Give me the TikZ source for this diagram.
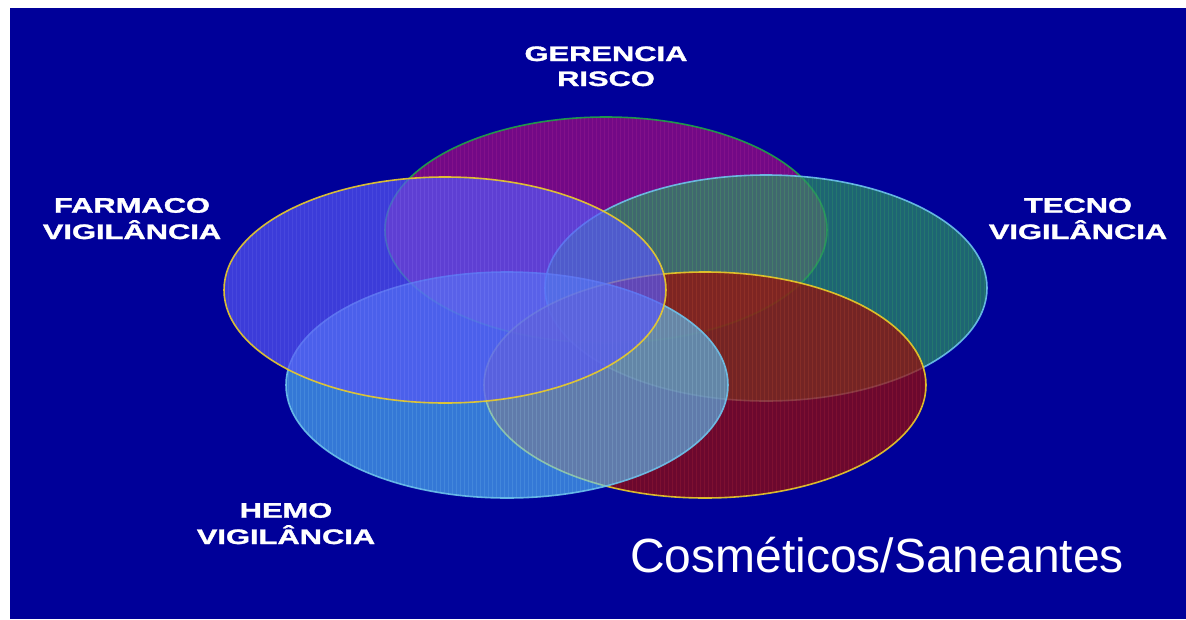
\documentclass[tikz,border=0pt]{standalone}
\usepackage{fontspec}
\setmainfont{Liberation Sans}
\newfontfamily\labfont[FakeBold=1.2]{Liberation Sans Bold}
\usepackage{graphicx}
\usetikzlibrary{calc}
\definecolor{bgblue}{RGB}{0,0,153}
\definecolor{gerfill}{RGB}{164,14,127}
\definecolor{tecfill}{RGB}{43,145,100}
\definecolor{farfill}{RGB}{86,86,245}
\definecolor{cosfill}{RGB}{150,12,6}
\definecolor{hemfill}{RGB}{88,200,255}
\definecolor{gerline}{RGB}{30,165,70}
\definecolor{yelline}{RGB}{235,205,40}
\definecolor{bluline}{RGB}{110,195,235}
\tikzset{
  lab/.style={text=white, inner sep=0pt, anchor=base,
    font=\fontsize{21}{25}\selectfont\labfont},
  big/.style={text=white, inner sep=0pt, anchor=base west,
    font=\fontsize{48}{56}\selectfont},
  rim/.style={line width=1.6pt, draw opacity=0.9}
}
\newcommand{\gridtex}[3]{%
  \begin{scope}
    \clip (#1) ellipse [x radius=221, y radius=113];
    \draw[#2, opacity=#3, line width=0.9pt, step=4]
      ($(#1)+(-224,-116)$) grid ($(#1)+(224,116)$);
  \end{scope}}
\begin{document}
\begin{tikzpicture}[x=1pt,y=-1pt]
\useasboundingbox (0,0) rectangle (1186,619);
\fill[white] (0,0) rectangle (1186,619);
\fill[bgblue] (10,8) rectangle (1186,619);

\coordinate (cg) at (606,230);
\coordinate (ct) at (766,288);
\coordinate (cf) at (445,290);
\coordinate (cc) at (705,385);
\coordinate (ch) at (507,385);

% Gerencia
\fill[gerfill, fill opacity=0.7] (cg) ellipse [x radius=221, y radius=113];
\gridtex{cg}{magenta!70!white}{0.12}
\draw[gerline, rim] (cg) ellipse [x radius=221, y radius=113];
% Tecno
\fill[tecfill, fill opacity=0.7] (ct) ellipse [x radius=221, y radius=113];
\gridtex{ct}{green!70!white}{0.12}
\draw[bluline, rim] (ct) ellipse [x radius=221, y radius=113];
% Cosmeticos
\fill[cosfill, fill opacity=0.72] (cc) ellipse [x radius=221, y radius=113];
\gridtex{cc}{red!70!white}{0.12}
\draw[yelline, rim] (cc) ellipse [x radius=221, y radius=113];
% Hemo
\fill[hemfill, fill opacity=0.6] (ch) ellipse [x radius=221, y radius=113];
\gridtex{ch}{cyan!40!white}{0.15}
\draw[bluline, rim] (ch) ellipse [x radius=221, y radius=113];
% Farmaco
\fill[farfill, fill opacity=0.7] (cf) ellipse [x radius=221, y radius=113];
\gridtex{cf}{blue!40!white}{0.12}
\draw[yelline, rim] (cf) ellipse [x radius=221, y radius=113];

\node[lab] (ger) at (606,86) {\scalebox{1.47}[1]{\begin{tabular}[b]{@{}c@{}}GERENCIA\\RISCO\end{tabular}}};
\node[lab] (far) at (132,239) {\scalebox{1.47}[1]{\begin{tabular}[b]{@{}c@{}}FARMACO\\VIGILÂNCIA\end{tabular}}};
\node[lab] (tec) at (1078,239) {\scalebox{1.47}[1]{\begin{tabular}[b]{@{}c@{}}TECNO\\VIGILÂNCIA\end{tabular}}};
\node[lab] (hem) at (286,544) {\scalebox{1.47}[1]{\begin{tabular}[b]{@{}c@{}}HEMO\\VIGILÂNCIA\end{tabular}}};
\node[big] (cos) at (630,572) {Cosméticos/Saneantes};
\end{tikzpicture}
\end{document}
